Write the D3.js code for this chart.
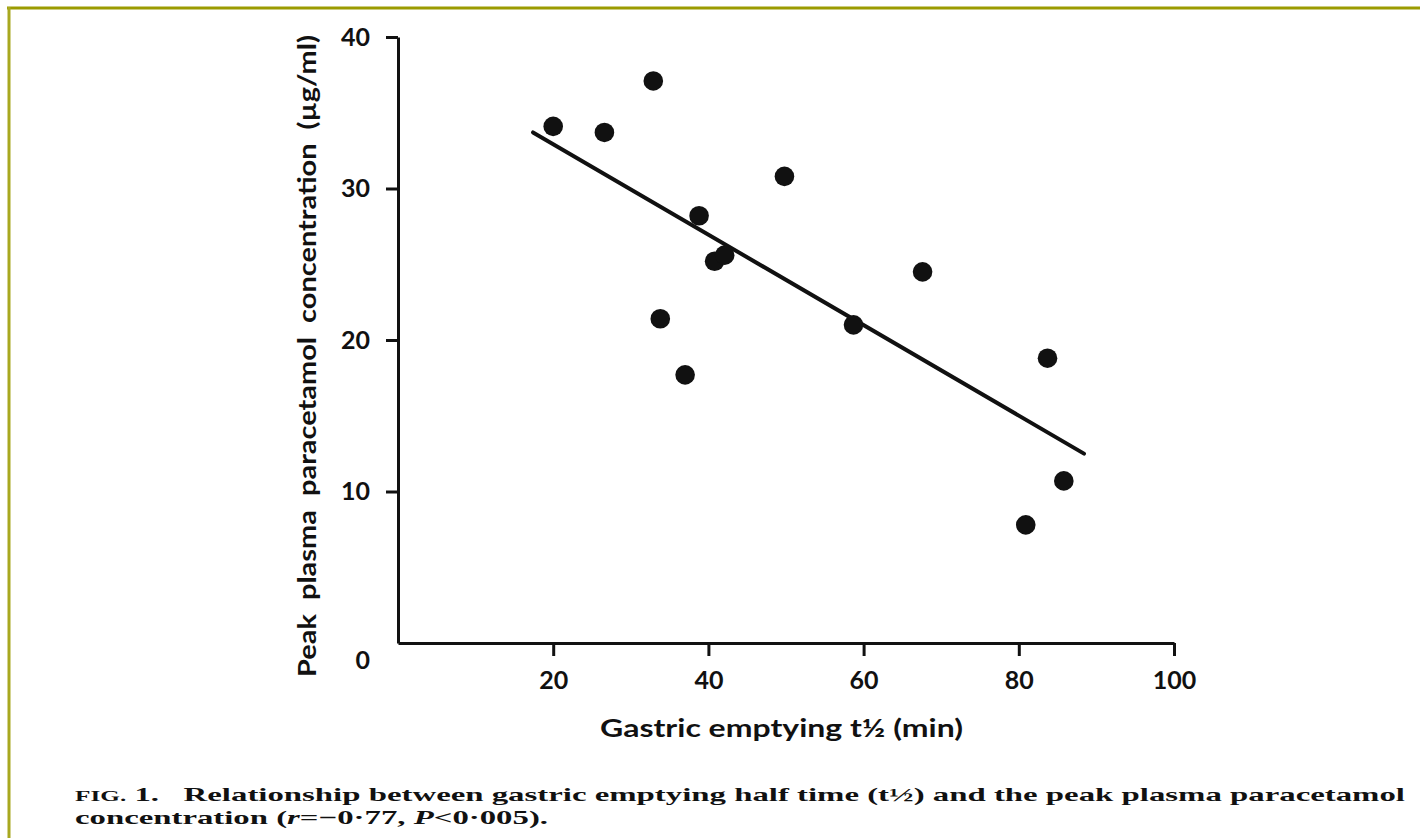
<!DOCTYPE html>
<html>
<head>
<meta charset="utf-8">
<script src="https://cdn.jsdelivr.net/npm/d3@7"></script>
<style>
  html, body { margin: 0; padding: 0; background: #fff; }
  svg { display: block; }
  .tick text { font-family: Lato, "Open Sans", sans-serif; font-weight: 700; font-size: 25px; fill: #111; }
  .caption { white-space: pre; }
</style>
</head>
<body>
<svg id="chart" width="1420" height="838"></svg>
<script>
// Gastric emptying half time (min) vs peak plasma paracetamol concentration (µg/ml)
const emptyingT = [20.0, 26.6, 32.9, 38.8, 33.8, 37.0, 40.8, 42.1, 49.8, 58.7, 67.6, 83.7, 85.8, 80.9];
const peakConc  = [34.1, 33.7, 37.1, 28.2, 21.4, 17.7, 25.2, 25.6, 30.8, 21.0, 24.5, 18.8, 10.7, 7.8];

// Fitted regression line (r = -0.77), drawn between these end points
const fitX = [17.4, 88.4];
const fitY = [33.7, 12.5];

const xTicks = [20, 40, 60, 80, 100];
const yTicks = [0, 10, 20, 30, 40];

const xTitle = "Gastric emptying t½ (min)";
const yTitle = "Peak  plasma  paracetamol  concentration  (µg/ml)";

const svg = d3.select("#chart");

// page frame
svg.append("line").attr("x1", 7).attr("x2", 1420).attr("y1", 8).attr("y2", 8)
  .attr("stroke", "#9b9b00").attr("stroke-width", 3);
svg.append("line").attr("x1", 9).attr("x2", 9).attr("y1", 7).attr("y2", 838)
  .attr("stroke", "#a8a820").attr("stroke-width", 3);

const x = d3.scaleLinear().domain([0, 100]).range([398, 1174]);
const y = d3.scaleLinear().domain([0, 40]).range([643, 37]);

// x axis
const gx = svg.append("g").attr("transform", `translate(0,${y(0)})`)
  .call(d3.axisBottom(x).tickValues(xTicks).tickSize(13).tickSizeOuter(0).tickPadding(15));
gx.select(".domain").attr("stroke", "#111").attr("stroke-width", 3);
gx.selectAll(".tick line").attr("stroke", "#111").attr("stroke-width", 3);

// y axis
const gy = svg.append("g").attr("transform", `translate(${x(0)},0)`)
  .call(d3.axisLeft(y).tickValues(yTicks).tickSize(12).tickSizeOuter(0).tickPadding(16));
gy.select(".domain").attr("stroke", "#111").attr("stroke-width", 3);
gy.selectAll(".tick line").attr("stroke", "#111").attr("stroke-width", 3)
  .filter(d => d === 0).remove();
gy.selectAll(".tick text").filter(d => d === 0).attr("dy", "1.0em");

// regression line
svg.append("line")
  .attr("x1", x(fitX[0])).attr("y1", y(fitY[0]))
  .attr("x2", x(fitX[1])).attr("y2", y(fitY[1]))
  .attr("stroke", "#111").attr("stroke-width", 4).attr("stroke-linecap", "round");

// data points
svg.append("g").selectAll("circle")
  .data(emptyingT.map((t, i) => [t, peakConc[i]]))
  .join("circle")
  .attr("cx", d => x(d[0])).attr("cy", d => y(d[1]))
  .attr("r", 9.8).attr("fill", "#111");

// axis titles
svg.append("text")
  .attr("class", "caption")
  .attr("x", 600).attr("y", 737)
  .attr("textLength", 363).attr("lengthAdjust", "spacingAndGlyphs")
  .style("font-family", "Lato, 'Open Sans', sans-serif").style("font-weight", 700)
  .style("font-size", "24px").style("fill", "#111")
  .text(xTitle);

svg.append("text")
  .attr("class", "caption")
  .attr("transform", "translate(316,677) rotate(-90)")
  .attr("textLength", 642).attr("lengthAdjust", "spacingAndGlyphs")
  .style("font-family", "Lato, 'Open Sans', sans-serif").style("font-weight", 700)
  .style("font-size", "24px").style("fill", "#111")
  .text(yTitle);

// figure caption
const cap1 = svg.append("text").attr("class", "caption").attr("x", 75).attr("y", 801)
  .attr("textLength", 1330).attr("lengthAdjust", "spacingAndGlyphs")
  .style("font-family", "'Liberation Serif', 'DejaVu Serif', serif").style("font-weight", 700)
  .style("font-size", "19.5px").style("fill", "#111");
cap1.append("tspan").style("font-size", "15px").text("FIG.");
cap1.append("tspan").text(" 1.   Relationship between gastric emptying half time (t½) and the peak plasma paracetamol");

const cap2 = svg.append("text").attr("class", "caption").attr("x", 75).attr("y", 824)
  .attr("textLength", 473).attr("lengthAdjust", "spacingAndGlyphs")
  .style("font-family", "'Liberation Serif', 'DejaVu Serif', serif").style("font-weight", 700)
  .style("font-size", "19.5px").style("fill", "#111");
cap2.append("tspan").text("concentration (");
cap2.append("tspan").style("font-style", "italic").text("r");
cap2.append("tspan").text("=−0·77, ");
cap2.append("tspan").style("font-style", "italic").text("P");
cap2.append("tspan").text("<0·005).");
</script>
</body>
</html>
